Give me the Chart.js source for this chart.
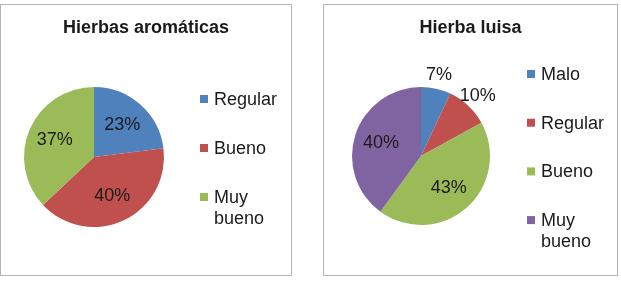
<!DOCTYPE html>
<html>
<head>
<meta charset="utf-8">
<script src="https://cdn.jsdelivr.net/npm/chart.js@4/dist/chart.umd.min.js"></script>
<style>
  html, body { margin: 0; padding: 0; background: #fff; }
  body { width: 621px; height: 282px; position: relative; overflow: hidden; }
  .box { position: absolute; top: 4px; height: 270px; border: 1px solid #b4b4b4; background: #fff; }
  #box1 { left: 0; width: 290px; }
  #box2 { left: 323px; width: 293px; }
  canvas { display: block; }
</style>
</head>
<body>
<div class="box" id="box1"><canvas id="chart1" width="290" height="270"></canvas></div>
<div class="box" id="box2"><canvas id="chart2" width="293" height="270"></canvas></div>
<script>
  // Data
  const herbsTitle = 'Hierbas aromáticas';
  const herbsLabels = ['Regular', 'Bueno', 'Muy bueno'];
  const herbsValues = [23, 40, 37];

  const luisaTitle = 'Hierba luisa';
  const luisaLabels = ['Malo', 'Regular', 'Bueno', 'Muy bueno'];
  const luisaValues = [7, 10, 43, 40];

  // Office 2007 default palette
  const sliceColors = ['#4F81BD', '#C0504D', '#9BBB59', '#8064A2'];
  const FONT = '"Liberation Sans", Arial, sans-serif';
  const TEXT = '#1a1a1a';

  Chart.defaults.font.family = FONT;
  Chart.defaults.font.size = 18;
  Chart.defaults.color = TEXT;

  // Title centred on the whole box (the built-in one is squeezed by the padding)
  const boxTitle = {
    id: 'boxTitle',
    afterDraw(chart, args, opts) {
      const ctx = chart.ctx;
      ctx.save();
      ctx.font = 'bold 18px ' + FONT;
      ctx.fillStyle = TEXT;
      ctx.textAlign = 'center';
      ctx.textBaseline = 'middle';
      ctx.fillText(opts.text, chart.width / 2, opts.y);
      ctx.restore();
    }
  };

  // Percent labels: inside for big slices, just outside for small ones
  const pctLabels = {
    id: 'pctLabels',
    afterDatasetsDraw(chart) {
      const ctx = chart.ctx;
      const meta = chart.getDatasetMeta(0);
      const values = chart.data.datasets[0].data;
      ctx.save();
      ctx.font = '18px ' + FONT;
      ctx.fillStyle = TEXT;
      ctx.textAlign = 'center';
      ctx.textBaseline = 'middle';
      meta.data.forEach((arc, i) => {
        const p = arc.getProps(['x', 'y', 'startAngle', 'endAngle', 'outerRadius'], true);
        const mid = (p.startAngle + p.endAngle) / 2;
        const dist = values[i] <= 10 ? p.outerRadius * 1.2 : p.outerRadius * 0.61;
        ctx.fillText(values[i] + '%', p.x + Math.cos(mid) * dist, p.y + Math.sin(mid) * dist);
      });
      ctx.restore();
    }
  };

  // Legend on the right with wrapped labels
  const sideLegend = {
    id: 'sideLegend',
    afterDraw(chart, args, opts) {
      const ctx = chart.ctx;
      const labels = chart.data.labels;
      const x = chart.chartArea.right + opts.offsetX;
      ctx.save();
      ctx.font = '18px ' + FONT;
      ctx.textBaseline = 'middle';
      ctx.textAlign = 'left';
      labels.forEach((label, i) => {
        const y = opts.top + i * opts.gap;
        ctx.fillStyle = sliceColors[i];
        ctx.fillRect(x, y - 4, 8, 8);
        ctx.fillStyle = TEXT;
        // simple word wrap
        const words = label.split(' ');
        const lines = [];
        let line = '';
        words.forEach(w => {
          const test = line ? line + ' ' + w : w;
          if (line && ctx.measureText(test).width > opts.maxWidth) {
            lines.push(line);
            line = w;
          } else {
            line = test;
          }
        });
        lines.push(line);
        lines.forEach((l, j) => ctx.fillText(l, x + 14, y + 1 + j * 21));
      });
      ctx.restore();
    }
  };

  function makePie(id, title, labels, values, pad, legend) {
    return new Chart(document.getElementById(id), {
      type: 'pie',
      data: {
        labels: labels,
        datasets: [{
          data: values,
          backgroundColor: sliceColors.slice(0, values.length),
          borderWidth: 0
        }]
      },
      options: {
        responsive: false,
        animation: false,
        layout: { padding: pad },
        plugins: {
          legend: { display: false },
          tooltip: { enabled: false },
          title: { display: false },
          boxTitle: { text: title, y: 23 },
          sideLegend: legend
        }
      },
      plugins: [boxTitle, pctLabels, sideLegend]
    });
  }

  makePie('chart1', herbsTitle, herbsLabels, herbsValues,
    { left: 23, right: 127, top: 82, bottom: 48 },
    { offsetX: 36, top: 94, gap: 49, maxWidth: 72 });

  makePie('chart2', luisaTitle, luisaLabels, luisaValues,
    { left: 28, right: 127, top: 82, bottom: 50 },
    { offsetX: 37, top: 69, gap: 48.7, maxWidth: 72 });
</script>
</body>
</html>
